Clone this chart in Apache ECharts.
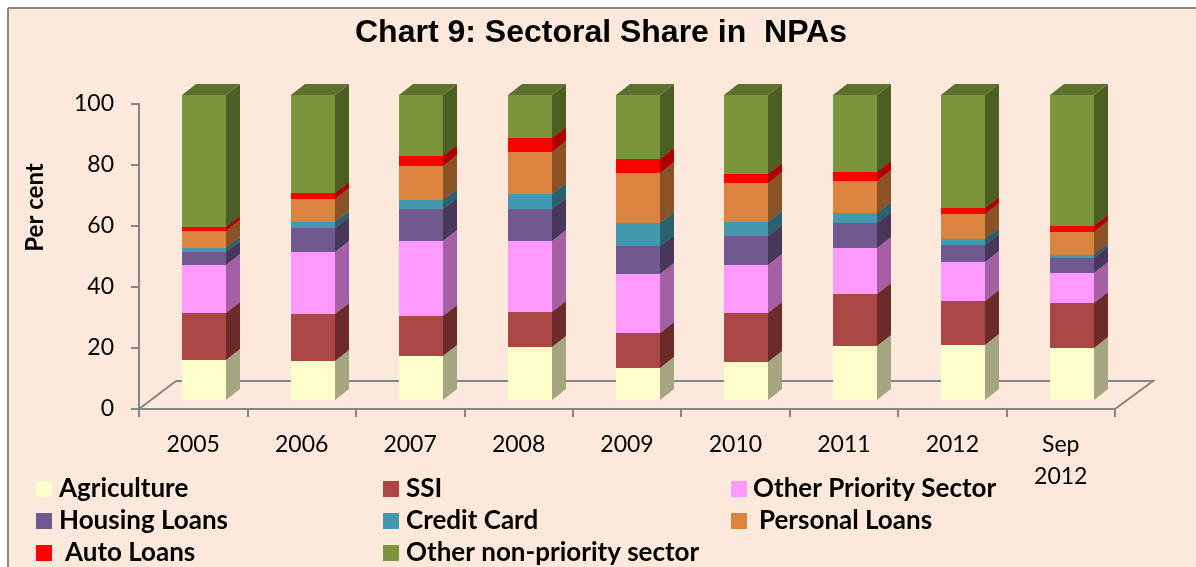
<!DOCTYPE html>
<html>
<head>
<meta charset="utf-8">
<style>html,body{margin:0;padding:0;background:#fff}#chart{width:1196px;height:567px}</style>
<script src="https://cdn.jsdelivr.net/npm/echarts@6/dist/echarts.min.js"></script>
</head>
<body>
<div id="chart"></div>
<script>
const categories = ['2005','2006','2007','2008','2009','2010','2011','2012','Sep\n2012'];
const agriculture = [13.1,12.9,14.5,17.3,10.4,12.5,17.6,18.0,17.1];
const ssi         = [15.3,15.2,13.1,11.7,11.5,16.0,17.0,14.5,14.8];
const otherPriority = [15.8,20.3,24.4,23.1,19.5,15.9,15.1,12.6,9.6];
const housing     = [4.4,8.1,10.6,10.4,9.1,9.5,8.3,5.8,4.9];
const creditCard  = [1.3,1.8,3.0,5.1,7.4,4.5,3.2,1.9,1.3];
const personal    = [5.5,7.7,11.0,13.8,16.6,12.6,10.7,8.3,7.4];
const auto        = [1.4,1.8,3.3,4.6,4.5,3.2,2.9,1.8,1.8];
const otherNonPriority = [43.2,32.2,20.0,14.1,21.0,25.9,25.2,37.1,43.0];
const yTicks = {min:0,max:100,interval:20};

const seriesDefs = [
  {name:'Agriculture', values:agriculture, front:'#FFFFCC', side:'#A5A582', top:'#C8C8A0'},
  {name:'SSI', values:ssi, front:'#AA4643', side:'#6B2B2A', top:'#853634'},
  {name:'Other Priority Sector', values:otherPriority, front:'#FF99FF', side:'#A560A5', top:'#C87AC8'},
  {name:'Housing Loans', values:housing, front:'#71588F', side:'#47375B', top:'#59456F'},
  {name:'Credit Card', values:creditCard, front:'#4198AF', side:'#29616F', top:'#32778A'},
  {name:'Personal Loans', values:personal, front:'#DB843D', side:'#8A5327', top:'#AB6730'},
  {name:'Auto Loans', values:auto, front:'#FF0000', side:'#AC0000', top:'#C80000'},
  {name:'Other non-priority sector', values:otherNonPriority, front:'#7A953B', side:'#4D5E25', top:'#5D702D'}
];
// legend placement: [series index, icon left, legend top, extra text padding]
const legendLayout = [
  [0,36,476,2],[1,383,476,2],[2,731,476,1],
  [3,36,508,2],[4,383,508,2],[5,731,508,7],
  [6,36,540,8],[7,383,540,2]
];
const BAR_W = 44, DX = 14, DY = 11, OFF_X = 11, OFF_Y = 9;
const AXIS_GRAY = '#868686';

function make3d(def){
  return function(params, api){
    const p0 = api.coord([api.value(0), api.value(1)]);
    const p1 = api.coord([api.value(0), api.value(2)]);
    const l = Math.round(p0[0] + OFF_X - BAR_W/2), r = l + BAR_W;
    const b = Math.round(p0[1] - OFF_Y), t = Math.round(p1[1] - OFF_Y);
    return {type:'group', children:[
      {type:'polygon', shape:{points:[[r,b],[r+DX,b-DY],[r+DX,t-DY],[r,t]]}, style:{fill:def.side}},
      {type:'polygon', shape:{points:[[l,t],[r,t],[r+DX,t-DY],[l+DX,t-DY]]}, style:{fill:def.top}},
      {type:'rect', shape:{x:l,y:t,width:BAR_W,height:b-t}, style:{fill:def.front}}
    ]};
  };
}

const base = categories.map(()=>0);
const barSeries = seriesDefs.map(def=>{
  const data = def.values.map((v,i)=>{ const row=[i,base[i],base[i]+v]; base[i]+=v; return row; });
  return {
    type:'custom', name:def.name, coordinateSystem:'cartesian2d',
    renderItem:make3d(def), data, encode:{x:0,y:[1,2]},
    itemStyle:{color:def.front}, animation:false, silent:true, z:3
  };
});

const floorSeries = {
  type:'custom', name:'floor', coordinateSystem:'cartesian2d', silent:true, z:1, animation:false,
  data:[[0,0,0]], encode:{x:0,y:1},
  renderItem:function(params){
    const c = params.coordSys, x0=c.x, x1=c.x+c.width, y=c.y+c.height;
    return {type:'polyline', shape:{points:[[x0,y],[x0+37,y-28],[x1+38,y-28],[x1,y]]},
      style:{fill:'none',stroke:AXIS_GRAY,lineWidth:2}};
  }
};

const legends = legendLayout.map(([idx,left,top,pad])=>({
  show:true, left, top, orient:'horizontal', padding:0, selectedMode:false,
  itemWidth:16, itemHeight:16, icon:'rect',
  data:[seriesDefs[idx].name],
  textStyle:{fontFamily:'Lato',fontWeight:'bold',fontSize:26,color:'#000',padding:[0,0,0,pad]}
}));

const chart = echarts.init(document.getElementById('chart'),null,{renderer:'canvas'});
chart.setOption({
  animation:false,
  backgroundColor:'#FFFFFF',
  title:{text:'Chart 9: Sectoral Share in  NPAs',left:355,top:17,padding:0,
    textStyle:{fontFamily:'Liberation Sans',fontWeight:'bold',fontSize:32,color:'#000'}},
  graphic:[
    {type:'rect',z:-10,shape:{x:8,y:8,width:1188,height:559},style:{fill:'#FDE9DC'}},
    {type:'line',z:-9,shape:{x1:8,y1:8,x2:1196,y2:8},style:{stroke:AXIS_GRAY,lineWidth:2}},
    {type:'line',z:-9,shape:{x1:8,y1:8,x2:8,y2:567},style:{stroke:AXIS_GRAY,lineWidth:2}}
  ],
  legend:legends,
  grid:{left:139,top:104,width:976,height:305,containLabel:false},
  xAxis:{type:'category',data:categories,boundaryGap:true,
    axisLine:{show:true,lineStyle:{color:AXIS_GRAY,width:2}},
    axisTick:{show:true,length:8,alignWithLabel:false,lineStyle:{color:AXIS_GRAY,width:2}},
    axisLabel:{interval:0,margin:20,fontFamily:'Lato',fontSize:23,color:'#000',lineHeight:32}},
  yAxis:{type:'value',min:yTicks.min,max:yTicks.max,interval:yTicks.interval,
    name:'Per cent',nameLocation:'middle',nameRotate:90,nameGap:92,
    nameTextStyle:{fontFamily:'Lato',fontWeight:'bold',fontSize:24,color:'#000',padding:[0,0,0,98]},
    splitLine:{show:false},
    axisLine:{show:true,lineStyle:{color:AXIS_GRAY,width:2}},
    axisTick:{show:true,length:8,lineStyle:{color:AXIS_GRAY,width:2}},
    axisLabel:{margin:25,fontFamily:'Lato',fontSize:23,color:'#000',padding:[2,0,0,0]}},
  series:[floorSeries].concat(barSeries)
});
</script>
</body>
</html>
